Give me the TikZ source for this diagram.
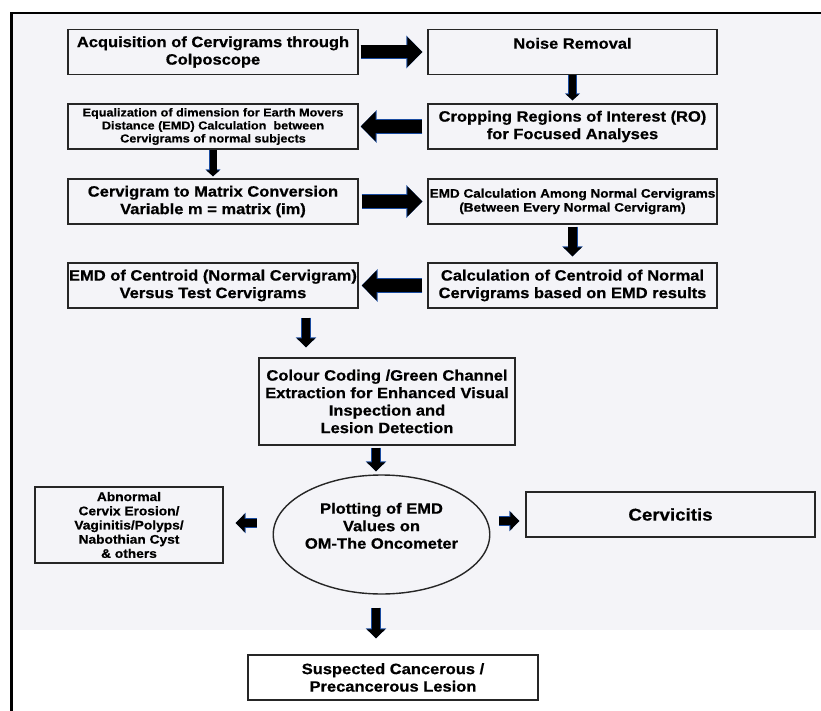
\documentclass[tikz,border=0pt]{standalone}
\usepackage{fontspec}
\setmainfont{Liberation Sans}[FakeStretch=1.1,BoldFeatures={FakeBold=0.6}]
\usetikzlibrary{shapes.geometric,arrows.meta}
\definecolor{panel}{RGB}{244,244,248}
\definecolor{arredge}{RGB}{25,75,160}

\begin{document}
\begin{tikzpicture}[x=1pt,y=-1pt,
  box/.style={draw=black!85,line width=1.4pt,rectangle,minimum width=290pt,minimum height=45pt,inner sep=0,align=center,font=\fontsize{15}{17.5}\selectfont\bfseries},
  bigarr/.style={line width=13pt,-{Triangle[length=15pt,width=29pt]},preaction={draw=arredge,line width=14.5pt,-{Triangle[length=16pt,width=32pt]}}},
  midarr/.style={line width=8.5pt,-{Triangle[length=9pt,width=18pt]},preaction={draw=arredge,line width=10pt,-{Triangle[length=10pt,width=20pt]}}},
  thinarr/.style={line width=7pt,-{Triangle[length=6pt,width=13pt]},preaction={draw=arredge,line width=8.5pt,-{Triangle[length=7pt,width=15pt]}}}]
  \useasboundingbox (0,0) rectangle (821,711);
  % background and frame
  \fill[panel] (11.5,13) rectangle (821,630);
  \draw[line width=2.5pt] (11.5,711) -- (11.5,13) -- (821,13);

  % first two columns
  \node[box] (acq) at (213,52) {Acquisition of Cervigrams through\\Colposcope};
  \node[box,minimum width=289pt] (noise) at (572.5,52) {Noise Removal\\~};
  \node[box,minimum width=289pt] (crop) at (572.5,126.5) {Cropping Regions of Interest (RO)\\for Focused Analyses};
  \node[box,font=\fontsize{11.5}{13}\selectfont\bfseries] (equal) at (213,126.5) {Equalization of dimension for Earth Movers\\Distance (EMD) Calculation~ between\\Cervigrams of normal subjects};
  \node[box] (matrix) at (213,201.5) {Cervigram to Matrix Conversion\\Variable m = matrix (im)};
  \node[box,minimum width=289pt,font=\fontsize{12.3}{14}\selectfont\bfseries] (emdcalc) at (572.5,201.5) {EMD Calculation Among Normal Cervigrams\\(Between Every Normal Cervigram)};
  \node[box,minimum width=289pt] (centroid) at (572.5,285.5) {Calculation of Centroid of Normal\\Cervigrams based on EMD results};
  \node[box] (emdcent) at (213,285.5) {EMD of Centroid (Normal Cervigram)\\Versus Test Cervigrams};

  % lower part
  \node[box,minimum width=256pt,minimum height=87pt] (colour) at (387,401.5) {Colour Coding /Green Channel\\Extraction for Enhanced Visual\\Inspection and\\Lesion Detection};
  \node[box,shape=ellipse,minimum width=189pt,minimum height=119pt] (ell) at (381.5,534.5) {Plotting of EMD\\Values on\\OM-The Oncometer\\~};
  \node[box,minimum width=188pt,minimum height=76pt,font=\fontsize{12.5}{14.2}\selectfont\bfseries] (abn) at (129,525) {Abnormal\\Cervix Erosion/\\Vaginitis/Polyps/\\Nabothian Cyst\\\& others};
  \node[box,minimum width=289pt,font=\fontsize{17}{20}\selectfont\bfseries] (cerv) at (670.5,514.5) {Cervicitis};
  \node[box] (susp) at (393,677.5) {Suspected Cancerous /\\Precancerous Lesion};

  % arrows
  \draw[bigarr,shorten <=2pt,shorten >=5pt] (acq.east) -- (noise.west);
  \draw[thinarr,shorten >=3pt] (noise.south) -- (crop.north);
  \draw[bigarr,shorten <=5pt,shorten >=2pt] (crop.west) -- (equal.east);
  \draw[thinarr,shorten >=2pt] (equal.south) -- (matrix.north);
  \draw[bigarr,shorten <=3pt,shorten >=5pt] (matrix.east) -- (emdcalc.west);
  \draw[midarr,shorten <=2pt,shorten >=6pt] (emdcalc.south) -- (centroid.north);
  \draw[bigarr,shorten <=5pt,shorten >=3pt] (centroid.west) -- (emdcent.east);
  \draw[midarr,shorten <=9pt,shorten >=10pt] ([xshift=93pt]emdcent.south) -- ([xshift=93pt]emdcent.south |- colour.north);
  \draw[midarr,shorten <=2pt,shorten >=3pt] ([xshift=-11pt]colour.south) -- ([xshift=-11pt]colour.south |- ell.north);
  \draw[midarr,shorten <=16pt,shorten >=12pt] ([yshift=11.5pt]ell.west) -- ([yshift=11.5pt]ell.west -| abn.east);
  \draw[midarr,shorten <=9pt,shorten >=6pt] ([yshift=13.5pt]ell.east) -- ([yshift=13.5pt]ell.east -| cerv.west);
  \draw[midarr,shorten <=13pt,shorten >=16pt] ([xshift=-5.5pt]ell.south) -- ([xshift=-5.5pt]ell.south |- susp.north);
\end{tikzpicture}
\end{document}
